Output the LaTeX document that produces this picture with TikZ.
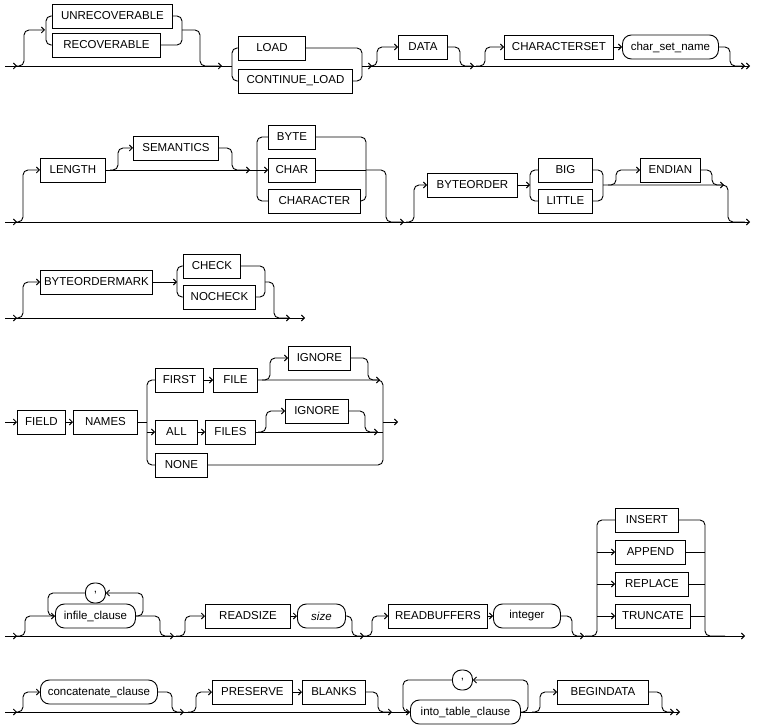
\documentclass[tikz,border=0pt]{standalone}
\usepackage{fontspec}
\setmainfont{Liberation Sans}
\usetikzlibrary{arrows.meta}
\tikzset{
  kw/.style={draw, line width=0.9pt, anchor=west, minimum height=24pt, inner xsep=3pt,
    font=\fontsize{11.5}{13}\selectfont},
  nt/.style={kw, rounded corners=9pt},
  sepnode/.style={nt, minimum height=20pt, rounded corners=9pt},
  ln/.style={line width=0.9pt, rounded corners=5pt},
  >={Straight Barb[length=3pt,width=6pt]}
}
\begin{document}
\begin{tikzpicture}[x=1pt, y=-1pt]
  \useasboundingbox (0,0) rectangle (760,727);
  % row 1
  \node[kw, minimum width=120pt] (unrec) at (52,16) {UNRECOVERABLE};
  \node[kw, minimum width=108pt] (rec) at (52,45) {RECOVERABLE};
  \node[kw, minimum width=67pt] (load) at (238,48) {LOAD};
  \node[kw, minimum width=114pt] (contload) at (238,81) {CONTINUE\_LOAD};
  \node[kw, minimum width=49pt] (data) at (398,47) {DATA};
  \node[kw, minimum width=109pt] (charset) at (504,47) {CHARACTERSET};
  \node[nt, minimum width=96pt] (csname) at (622,47) {char\_set\_name};
  \draw[ln] (5,66) -- (232,66);
  \draw[ln] (365,66) -- (735,66);
  \draw[ln,->] (735,66) -- (750,66);
  \draw[ln,->] (5,66) -- (17,66);
  \draw[ln,->] (16,66) -- (24,66) |- (45,30);
  \draw[ln] (unrec.west) -- (46,16) -- (46,45) -- (rec.west);
  \draw[ln] (unrec.east) -- (182,16) -- (182,45) -- (rec.east);
  \draw[ln,->] (182,30) -- (200,30) |- (222,66);
  \draw[ln] (load.west) -- (232,48) -- (232,81) -- (contload.west);
  \draw[ln] (load.east) -- (362,48) -- (362,81) -- (contload.east);
  \draw[ln,->] (362,66) -- (372,66);
  \draw[ln,->] (368,66) -- (377,66) |- (data.west);
  \draw[ln,->] (data.east) -- (460,47) |- (474,66);
  \draw[ln,->] (476,66) -- (485,66) |- (charset.west);
  \draw[ln,->] (charset.east) -- (csname.west);
  \draw[ln,->] (csname.east) -- (730,47) |- (745,66);
  % row 2
  \node[kw, minimum width=65pt] (length) at (40,170) {LENGTH};
  \node[kw, minimum width=85pt] (semantics) at (133,148) {SEMANTICS};
  \node[kw, minimum width=47pt] (byte) at (268,137) {BYTE};
  \node[kw, minimum width=47pt] (char) at (268,170) {CHAR};
  \node[kw, minimum width=92pt] (character) at (268,201) {CHARACTER};
  \node[kw, minimum width=90pt] (byteorder) at (427,185) {BYTEORDER};
  \node[kw, minimum width=54pt] (big) at (538,170) {BIG};
  \node[kw, minimum width=54pt] (little) at (538,201) {LITTLE};
  \node[kw, minimum width=60pt] (endian) at (640,170) {ENDIAN};
  \draw[ln] (5,222) -- (740,222);
  \draw[ln,->] (735,222) -- (750,222);
  \draw[ln,->] (5,222) -- (17,222);
  \draw[ln,->] (15,222) -- (23,222) |- (length.west);
  \draw[ln,->] (length.east) -- (char.west);
  \draw[ln,->] (110,170) -- (118,170) |- (semantics.west);
  \draw[ln,->] (semantics.east) -- (232,148) |- (250,170);
  \draw[ln] (byte.west) -- (257,137) -- (257,201) -- (character.west);
  \draw[ln] (byte.east) -- (366,137) -- (366,201) -- (character.east);
  \draw[ln] (char.east) -- (366,170);
  \draw[ln,->] (366,170) -- (386,170) |- (404,222);
  \draw[ln,->] (406,222) -- (414,222) |- (byteorder.west);
  \draw[ln,->] (byteorder.east) -- (530,185);
  \draw[ln] (big.west) -- (530,170) -- (530,201) -- (little.west);
  \draw[ln] (big.east) -- (603,170) -- (603,201) -- (little.east);
  \draw[ln] (603,185) -- (728,185) |- (745,222);
  \draw[ln,->] (608,185) -- (616,185) |- (endian.west);
  \draw[ln,->] (endian.east) -- (712,170) |- (724,185);
  % row 3
  \node[kw, minimum width=112pt] (bom) at (40,282) {BYTEORDERMARK};
  \node[kw, minimum width=57pt] (check) at (183,266) {CHECK};
  \node[kw, minimum width=72pt] (nocheck) at (183,297) {NOCHECK};
  \draw[ln] (5,318) -- (295,318);
  \draw[ln,->] (290,318) -- (305,318);
  \draw[ln,->] (5,318) -- (17,318);
  \draw[ln,->] (15,318) -- (23,318) |- (bom.west);
  \draw[ln,->] (bom.east) -- (177,282);
  \draw[ln] (check.west) -- (177,266) -- (177,297) -- (nocheck.west);
  \draw[ln] (check.east) -- (265,266) -- (265,297) -- (nocheck.east);
  \draw[ln,->] (265,282) -- (274,282) |- (290,318);
  % row 4
  \node[kw, minimum width=48pt] (field) at (17,422) {FIELD};
  \node[kw, minimum width=64pt] (names) at (73,422) {NAMES};
  \node[kw, minimum width=48pt] (first) at (155,380) {FIRST};
  \node[kw, minimum width=44pt] (file) at (213,380) {FILE};
  \node[kw, minimum width=62pt] (ignorea) at (288,358) {IGNORE};
  \node[kw, minimum width=42pt] (all) at (155,432) {ALL};
  \node[kw, minimum width=50pt] (files) at (205,432) {FILES};
  \node[kw, minimum width=63pt] (ignoreb) at (285,411) {IGNORE};
  \node[kw, minimum width=52pt] (none) at (155,465) {NONE};
  \draw[ln,->] (5,422) -- (field.west);
  \draw[ln,->] (field.east) -- (names.west);
  \draw[ln] (names.east) -- (147,422);
  \draw[ln] (first.west) -- (147,380) -- (147,465) -- (none.west);
  \draw[ln,->] (147,432) -- (all.west);
  \draw[ln,->] (first.east) -- (file.west);
  \draw[ln,->] (all.east) -- (files.west);
  \draw[ln] (file.east) -- (383,380) -- (383,465) -- (none.east);
  \draw[ln] (files.east) -- (383,432);
  \draw[ln,->] (262,380) -- (270,380) |- (ignorea.west);
  \draw[ln,->] (ignorea.east) -- (368,358) |- (380,380);
  \draw[ln,->] (258,432) -- (266,432) |- (ignoreb.west);
  \draw[ln,->] (ignoreb.east) -- (365,411) |- (378,432);
  \draw[ln,->] (383,422) -- (398,422);
  % row 5
  \node[nt, minimum width=80pt] (infile) at (55,616) {infile\_clause};
  \node[sepnode, minimum width=20pt] (comma) at (85,593) {,};
  \node[kw, minimum width=85pt] (readsize) at (205,616) {READSIZE};
  \node[nt, minimum width=48pt] (size) at (297,616) {\textit{size}};
  \node[kw, minimum width=99pt] (readbuf) at (388,616) {READBUFFERS};
  \node[nt, minimum width=67pt] (integer) at (493,616) {integer};
  \node[kw, minimum width=63pt] (insert) at (615,520) {INSERT};
  \node[kw, minimum width=70pt] (append) at (615,552) {APPEND};
  \node[kw, minimum width=73pt] (replace) at (615,584) {REPLACE};
  \node[kw, minimum width=75pt] (truncate) at (615,616) {TRUNCATE};
  \draw[ln] (5,636) -- (735,636);
  \draw[ln,->] (730,636) -- (745,636);
  \draw[ln,->] (5,636) -- (17,636);
  \draw[ln,->] (15,636) -- (25,636) |- (infile.west);
  \draw[ln,->] (infile.east) -- (143,616) |- (comma.east);
  \draw[ln] (comma.west) -- (48,593) |- (infile.west);
  \draw[ln,->] (infile.east) -- (160,616) |- (174,636);
  \draw[ln,->] (176,636) -- (185,636) |- (readsize.west);
  \draw[ln,->] (readsize.east) -- (size.west);
  \draw[ln,->] (size.east) -- (352,616) |- (364,636);
  \draw[ln,->] (364,636) -- (372,636) |- (readbuf.west);
  \draw[ln,->] (readbuf.east) -- (integer.west);
  \draw[ln,->] (integer.east) -- (572,616) |- (584,636);
  \draw[ln] (585,636) -- (597,636) -- (597,520) -- (insert.west);
  \draw[ln,->] (597,552) -- (append.west);
  \draw[ln,->] (597,584) -- (replace.west);
  \draw[ln,->] (597,616) -- (truncate.west);
  \draw[ln] (insert.east) -- (705,520) -- (705,636) -- (725,636);
  \draw[ln] (append.east) -- (705,552);
  \draw[ln] (replace.east) -- (705,584);
  \draw[ln] (truncate.east) -- (705,616);
  % row 6
  \node[nt, minimum width=117pt] (concat) at (40,692) {concatenate\_clause};
  \node[kw, minimum width=80pt] (preserve) at (212,692) {PRESERVE};
  \node[kw, minimum width=63pt] (blanks) at (302,692) {BLANKS};
  \node[nt, minimum width=110pt] (intotable) at (410,712) {into\_table\_clause};
  \node[sepnode, minimum width=20pt] (commab) at (452,680) {,};
  \node[kw, minimum width=91pt] (begindata) at (557,692) {BEGINDATA};
  \draw[ln,->] (5,712) -- (intotable.west);
  \draw[ln] (intotable.east) -- (670,712);
  \draw[ln,->] (665,712) -- (680,712);
  \draw[ln,->] (5,712) -- (17,712);
  \draw[ln,->] (15,712) -- (23,712) |- (concat.west);
  \draw[ln,->] (concat.east) -- (172,692) |- (184,712);
  \draw[ln,->] (188,712) -- (196,712) |- (preserve.west);
  \draw[ln,->] (preserve.east) -- (blanks.west);
  \draw[ln,->] (blanks.east) -- (378,692) |- (392,712);
  \draw[ln,->] (intotable.east) -- (528,712) |- (commab.east);
  \draw[ln] (commab.west) -- (403,680) |- (intotable.west);
  \draw[ln,->] (532,712) -- (540,712) |- (begindata.west);
  \draw[ln,->] (begindata.east) -- (662,692) |- (674,712);
\end{tikzpicture}
\end{document}
